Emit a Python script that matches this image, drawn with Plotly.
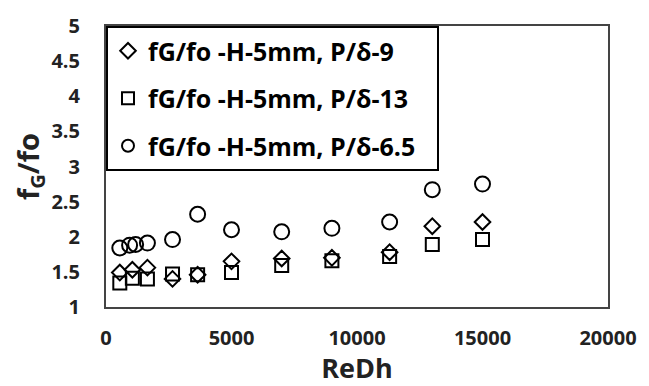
import plotly.graph_objects as go

x_d9 = [550, 1050, 1650, 2650, 3650, 5000, 7000, 9000, 11300, 13000, 15000]
y_d9 = [1.49, 1.53, 1.56, 1.40, 1.46, 1.65, 1.69, 1.70, 1.78, 2.15, 2.21]

x_d13 = [550, 1050, 1650, 2650, 3650, 5000, 7000, 9000, 11300, 13000, 15000]
y_d13 = [1.34, 1.41, 1.40, 1.47, 1.46, 1.49, 1.59, 1.66, 1.72, 1.89, 1.96]

x_d65 = [550, 940, 1180, 1650, 2650, 3650, 5000, 7000, 9000, 11300, 13000, 15000]
y_d65 = [1.84, 1.88, 1.89, 1.91, 1.96, 2.32, 2.10, 2.07, 2.12, 2.21, 2.67, 2.75]

names = ["fG/fo -H-5mm, P/δ-9", "fG/fo -H-5mm, P/δ-13", "fG/fo -H-5mm, P/δ-6.5"]

FONT = "Open Sans"
PAD = '<span style="color:rgba(255,255,255,0)">--</span>'
fig = go.Figure()
specs = [(x_d9, y_d9, "diamond-open", 12), (x_d13, y_d13, "square-open", 13), (x_d65, y_d65, "circle-open", 15)]
for i, (xs, ys, sym, sz) in enumerate(specs):
    fig.add_trace(go.Scatter(
        x=xs, y=ys, mode="markers", name=names[i] + PAD, legendgroup=str(i),
        marker=dict(symbol=sym, size=sz, color="black", line=dict(color="black", width=2)),
    ))

fig.update_layout(
    width=649, height=386,
    margin=dict(l=106, r=37, t=19, b=76),
    paper_bgcolor="white", plot_bgcolor="white",
    font=dict(family=FONT, color="#222", size=20, weight="bold"),
    showlegend=True,
    legend=dict(
        x=0, y=1, xanchor="left", yanchor="top",
        bgcolor="white", bordercolor="black", borderwidth=2,
        font=dict(family=FONT, size=25, color="black", weight="bold"),
        tracegroupgap=12, itemsizing="constant",
    ),
    xaxis=dict(
        range=[0, 20000], dtick=5000, showgrid=False, zeroline=False,
        showline=True, linecolor="#444", linewidth=2, mirror=True,
        ticks="outside", ticklen=12, tickcolor="white",
        tickformat="d", tickfont=dict(size=20, weight="bold", color="#222"),
        title=dict(text="ReDh", font=dict(size=27, weight="bold", color="#222"), standoff=4),
    ),
    yaxis=dict(
        range=[1, 5], dtick=0.5, showgrid=False, zeroline=False,
        showline=True, linecolor="#444", linewidth=2, mirror=True,
        ticks="outside", ticklen=20, tickcolor="white",
        tickformat="~g", tickfont=dict(size=20, weight="bold", color="#222"),
        title=dict(text="f<sub>G</sub>/fo", font=dict(size=29, weight="bold", color="#222"), standoff=2),
    ),
)

fig.write_html("out.html")
